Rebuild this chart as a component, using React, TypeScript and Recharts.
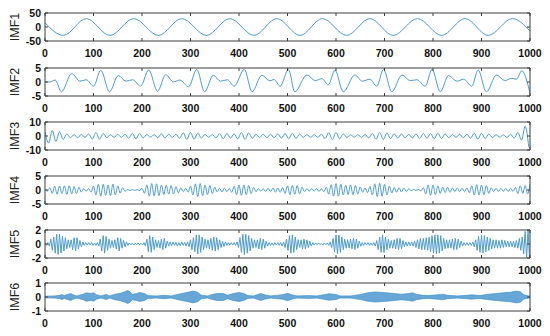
import React from 'react';
import { ComposedChart, Line, Area, XAxis, YAxis } from 'recharts';

const X_TICKS = [0, 100, 200, 300, 400, 500, 600, 700, 800, 900, 1000];
const LABELS = ['IMF1', 'IMF2', 'IMF3', 'IMF4', 'IMF5', 'IMF6'];

// IMF1: extrema
const IMF1_X = [0, 38, 85, 134, 183, 234, 282, 333, 381, 431, 478, 526, 572, 622, 670, 718, 768, 818, 866, 914, 964, 1000];
const IMF1_Y = [15, -30, 30, -30, 30, -30, 30, -30, 30, -30, 30, -30, 30, -30, 30, -30, 30, -30, 30, -30, 30, -15];

// IMF2: extrema
const IMF2_X = [0, 10, 21, 34, 55, 72, 85, 100, 115, 133, 151, 167, 181, 197, 214, 232, 249, 265, 278, 296, 313, 329, 347, 362, 376, 390, 411, 427, 447, 464, 472, 485, 502, 515, 540, 557, 571, 584, 598, 615, 639, 654, 670, 684, 698, 715, 736, 753, 767, 784, 798, 815, 832, 849, 863, 880, 893, 910, 931, 948, 962, 972, 983, 1000];
const IMF2_Y = [0, 0, 0.7, -3.5, 3, 0.3, 0.8, -1.5, 4.2, -3.5, 2.3, 0.3, 0.8, -1.5, 4.3, -3.3, 2.6, 0, 0.7, -1.7, 4.5, -3.5, 2.4, 0.3, 0.8, -1.5, 4.5, -3.5, 2.4, 0.4, 0.9, -1.5, 4.5, -3.5, 2.5, 0.5, 1.2, -1, 4.2, -3.5, 2.5, 0.3, 1, -1.5, 4.5, -3.5, 2.5, 0.5, 0.8, -1.5, 4.5, -3.5, 2.3, 0.3, 1, -1.5, 4.3, -3.5, 2.5, 0.5, 1.3, 1, 4, -4];

// IMF3: extrema every 7.5 samples
const IMF3_STEP = 7.5;
const IMF3_Y = [
  3, -5, 4, -4, 3, -2.5, 1.5, -1.2, 1, -1.3,
  1.2, -1, 1.5, -2.2, 2.5, -2.3, 1.8, -1.2, 0.9, -1,
  1.2, -0.9, 1.2, -1.6, 2, -2, 1.8, -1.4, 1, -0.8,
  1, -1.2, 1.5, -1.5, 1.3, -1, 1.3, -1.8, 2.3, -2.5,
  2.5, -2.2, 2, -1.5, 1.1, -0.9, 1, -1.3, 1.8, -2,
  1.8, -1.5, 1.5, -2, 2.5, -2.5, 2.2, -1.6, 1.2, -1,
  1.2, -1.3, 1.2, -1.2, 1.5, -1.5, 1.8, -2, 2, -1.8,
  1.4, -1, 0.9, -0.8, 1, -1, 1.3, -1.8, 2.3, -2.5,
  2.5, -2, 1.5, -1, 0.8, -0.8, 1, -1, 1, -1.3,
  1.8, -2.3, 2.5, -2.5, 2.2, -1.8, 1.5, -1.5, 1.5, -1.3,
  1.2, -1.3, 1.5, -1.8, 1.8, -1.6, 1.8, -2, 2, -1.8,
  1.5, -1.2, 1, -1, 1.2, -1.2, 1.3, -1.6, 2, -2.2,
  2, -1.8, 1.4, -1, 0.8, -0.8, 0.8, -1, 1.2, -1.5,
  2.5, -3, 7, -8,
];

// IMF4: extrema every 5 samples
const IMF4_STEP = 5;
const IMF4_Y = [
  0.3, -0.4, 0.8, -1.2, 1.4, -1.5, 1.4, -1.3, 1.5, -1.6,
  1.5, -1.4, 1.2, -1.3, 1.0, -0.7, 0.5, -0.4, 0.5, -0.8,
  1.4, -1.8, 2.0, -2.2, 2.1, -1.9, 1.8, -2.0, 2.1, -1.8,
  1.5, -1.1, 0.8, -0.5, 0.2, -0.15, 0.1, -0.15, 0.1, -0.2,
  0.6, -1.2, 1.8, -2.2, 2.3, -2.1, 2.2, -2.0, 1.8, -1.6,
  1.7, -1.5, 1.6, -1.4, 1.2, -1.0, 0.7, -0.6, 0.6, -0.8,
  1.4, -1.8, 2.2, -2.4, 2.3, -2.0, 1.8, -1.7, 1.6, -1.3,
  1.0, -0.7, 0.6, -0.7, 0.7, -0.6, 0.5, -0.8, 1.3, -1.7,
  1.8, -1.9, 1.8, -1.7, 1.6, -1.3, 0.9, -0.6, 0.5, -0.4,
  0.4, -0.5, 0.7, -0.6, 0.7, -0.8, 0.7, -0.8, 0.9, -1.2,
  1.5, -1.7, 1.6, -1.5, 1.6, -1.4, 1.0, -0.6, 0.5, -0.4,
  0.5, -0.4, 0.5, -0.5, 0.4, -0.6, 1.0, -1.5, 1.9, -2.2,
  2.3, -2.2, 2.0, -1.8, 1.7, -1.6, 1.8, -1.7, 1.6, -1.4,
  1.1, -0.8, 0.7, -0.9, 1.2, -1.8, 2.2, -2.3, 2.4, -2.2,
  2.0, -1.8, 1.4, -1.1, 0.9, -0.8, 0.8, -0.7, 0.7, -0.6,
  0.5, -0.3, 0.2, -0.15, 0.2, -0.3, 0.8, -1.4, 1.8, -1.9,
  1.8, -1.7, 1.5, -1.2, 1.0, -0.9, 1.0, -0.8, 0.7, -0.6,
  0.7, -0.6, 0.7, -0.6, 0.7, -1.0, 1.5, -1.8, 1.9, -1.8,
  1.8, -1.7, 1.6, -1.2, 0.8, -0.6, 0.6, -0.5, 0.6, -0.5,
  0.6, -0.5, 0.6, -0.5, 0.9, -1.3, 1.5, -1.2, 1.6, -1.4,
  2.0,
];

// IMF5: extrema every 3 samples
const IMF5_STEP = 3;
const IMF5_Y = [
  0.2, -0.2, 0.2, -0.3, 0.7, -0.9, 1.0, -1.3, 1.4, -1.5,
  1.4, -1.3, 1.1, -1.0, 0.9, -0.7, 0.6, -0.5, 0.6, -0.8,
  0.9, -1.0, 0.9, -0.7, 0.5, -0.4, 0.3, -0.2, 0.2, -0.15,
  0.2, -0.15, 0.2, -0.2, 0.15, -0.2, 0.2, -0.3, 0.7, -1.0,
  1.2, -1.3, 1.1, -0.9, 0.7, -0.6, 0.5, -0.5, 0.6, -0.7,
  0.9, -1.0, 0.8, -0.6, 0.5, -0.4, 0.3, -0.2, 0.15, -0.1,
  0.1, -0.15, 0.1, -0.1, 0.15, -0.1, 0.1, -0.15, 0.2, -0.3,
  0.7, -1.1, 1.2, -1.2, 1.0, -0.8, 0.6, -0.5, 0.5, -0.6,
  0.7, -0.8, 0.8, -0.6, 0.4, -0.3, 0.3, -0.25, 0.3, -0.2,
  0.25, -0.3, 0.2, -0.25, 0.3, -0.2, 0.25, -0.3, 0.3, -0.4,
  0.6, -0.8, 0.9, -1.1, 1.3, -1.4, 1.3, -1.2, 1.0, -0.8,
  0.7, -0.6, 0.6, -0.7, 0.8, -0.9, 1.0, -1.0, 0.9, -0.8,
  0.6, -0.5, 0.4, -0.35, 0.3, -0.2, 0.2, -0.15, 0.2, -0.15,
  0.2, -0.2, 0.3, -0.5, 0.9, -1.2, 1.4, -1.5, 1.4, -1.3,
  1.2, -1.0, 0.8, -0.6, 0.6, -0.5, 0.6, -0.7, 0.8, -0.8,
  0.7, -0.6, 0.4, -0.3, 0.2, -0.2, 0.15, -0.2, 0.2, -0.15,
  0.2, -0.2, 0.2, -0.3, 0.3, -0.5, 0.7, -0.9, 1.2, -1.3,
  1.3, -1.2, 1.0, -0.8, 0.6, -0.5, 0.6, -0.7, 0.7, -0.7,
  0.6, -0.5, 0.4, -0.3, 0.2, -0.15, 0.15, -0.1, 0.15, -0.1,
  0.1, -0.15, 0.15, -0.1, 0.15, -0.2, 0.3, -0.5, 0.8, -1.1,
  1.3, -1.4, 1.3, -1.2, 1.0, -0.8, 0.7, -0.6, 0.6, -0.6,
  0.7, -0.7, 0.8, -0.8, 0.7, -0.6, 0.4, -0.3, 0.2, -0.2,
  0.2, -0.15, 0.2, -0.2, 0.15, -0.2, 0.2, -0.3, 0.5, -0.8,
  1.0, -1.2, 1.3, -1.2, 1.0, -0.8, 0.7, -0.6, 0.5, -0.6,
  0.6, -0.7, 0.8, -0.8, 0.8, -0.7, 0.5, -0.4, 0.3, -0.3,
  0.3, -0.25, 0.3, -0.3, 0.4, -0.5, 0.6, -0.7, 0.8, -0.8,
  0.8, -0.8, 0.9, -0.9, 1.0, -1.1, 1.2, -1.3, 1.3, -1.4,
  1.3, -1.3, 1.2, -1.0, 0.8, -0.7, 0.6, -0.6, 0.6, -0.6,
  0.7, -0.8, 0.8, -0.8, 0.7, -0.5, 0.4, -0.3, 0.2, -0.2,
  0.2, -0.2, 0.2, -0.2, 0.3, -0.4, 0.6, -0.9, 1.1, -1.2,
  1.2, -1.3, 1.2, -1.1, 1.0, -0.9, 0.8, -0.7, 0.6, -0.6,
  0.6, -0.6, 0.5, -0.6, 0.6, -0.5, 0.5, -0.4, 0.4, -0.4,
  0.4, -0.4, 0.4, -0.5, 0.5, -0.6, 0.8, -0.9, 1.0, -1.4,
  1.8, -1.9, 2.0, -2.0,
];

// IMF6: envelope (half-width of the dense band)
const IMF6_X = [0, 20, 30, 35, 40, 48, 53, 58, 65, 79, 85, 95, 100, 106, 115, 127, 133, 144, 155, 165, 170, 175, 180, 189, 195, 205, 212, 230, 245, 260, 282, 295, 305, 315, 322, 335, 347, 355, 368, 376, 388, 400, 410, 418, 430, 445, 452, 465, 490, 500, 508, 520, 545, 560, 575, 585, 600, 608, 630, 653, 665, 680, 690, 705, 720, 735, 750, 758, 765, 780, 790, 810, 820, 830, 850, 870, 880, 895, 915, 930, 945, 960, 972, 980, 987, 1000];
const IMF6_A = [0.06, 0.08, 0.12, 0.18, 0.1, 0.2, 0.25, 0.16, 0.08, 0.2, 0.3, 0.25, 0.3, 0.16, 0.08, 0.18, 0.08, 0.2, 0.26, 0.38, 0.46, 0.38, 0.2, 0.25, 0.32, 0.25, 0.1, 0.08, 0.12, 0.08, 0.25, 0.34, 0.42, 0.34, 0.12, 0.08, 0.2, 0.25, 0.25, 0.12, 0.25, 0.32, 0.25, 0.1, 0.08, 0.25, 0.16, 0.08, 0.16, 0.27, 0.16, 0.08, 0.1, 0.08, 0.16, 0.23, 0.18, 0.08, 0.08, 0.2, 0.3, 0.36, 0.34, 0.3, 0.25, 0.2, 0.25, 0.3, 0.2, 0.12, 0.1, 0.16, 0.2, 0.12, 0.08, 0.12, 0.16, 0.1, 0.2, 0.25, 0.3, 0.34, 0.42, 0.38, 0.16, 0.06];

const LINE = '#4f9dca';
const BAND = '#3389c9';
const FRAME = '#3c3c3c';
const FONT = '"Liberation Sans", Arial, Helvetica, sans-serif';

const d1 = IMF1_X.map((x, i) => ({ x, y: IMF1_Y[i] }));
const d2 = IMF2_X.map((x, i) => ({ x, y: IMF2_Y[i] }));
const d3 = IMF3_Y.map((y, i) => ({ x: i * IMF3_STEP, y }));
const d4 = IMF4_Y.map((y, i) => ({ x: i * IMF4_STEP, y }));
const d5 = IMF5_Y.map((y, i) => ({ x: i * IMF5_STEP, y }));
const d6 = IMF6_X.map((x, i) => ({ x, r: [-IMF6_A[i], IMF6_A[i]] }));

const BottomTick = (p: any) => (
  <g>
    <line x1={p.x} x2={p.x} y1={p.y} y2={p.y - 3} stroke={FRAME} strokeWidth={1} />
    <text x={p.x} y={p.y + 16} textAnchor="middle" fontSize={10.5} fontWeight="bold" fontFamily={FONT} fill="#111">
      {p.payload.value}
    </text>
  </g>
);
const TopTick = (p: any) => (
  <line x1={p.x} x2={p.x} y1={p.y} y2={p.y + 3} stroke={FRAME} strokeWidth={1} />
);
const LeftTick = (p: any) => (
  <g>
    <line x1={p.x} x2={p.x + 3} y1={p.y} y2={p.y} stroke={FRAME} strokeWidth={1} />
    <text x={p.x - 4} y={p.y} dy="0.36em" textAnchor="end" fontSize={10.5} fontWeight="bold" fontFamily={FONT} fill="#111">
      {p.payload.value}
    </text>
  </g>
);
const RightTick = (p: any) => (
  <line x1={p.x} x2={p.x - 3} y1={p.y} y2={p.y} stroke={FRAME} strokeWidth={1} />
);

type PanelProps = {
  data: any[];
  label: string;
  domain: [number, number];
  top: number;
  kind: 'line' | 'area';
  curve: 'monotone' | 'linear';
};

const PAD = 8;

const Panel = ({ data, label, domain, top, kind, curve }: PanelProps) => {
  const yTicks = [domain[0], 0, domain[1]];
  return (
    <div style={{ position: 'absolute', left: 0, top: top - PAD - 1 }}>
      <ComposedChart width={550} height={58} data={data} margin={{ top: PAD, right: 19, bottom: 5, left: 44 }}>
        <XAxis xAxisId="b" dataKey="x" type="number" domain={[0, 1000]} ticks={X_TICKS} interval={0}
          tickSize={0} tickMargin={0} tickLine={false} tick={BottomTick} axisLine={{ stroke: FRAME }} height={16} allowDataOverflow />
        <XAxis xAxisId="t" orientation="top" dataKey="x" type="number" domain={[0, 1000]} ticks={X_TICKS} interval={0}
          tickSize={0} tickMargin={0} tickLine={false} tick={TopTick} axisLine={{ stroke: FRAME }} height={1} allowDataOverflow />
        <YAxis yAxisId="l" type="number" domain={domain} ticks={yTicks} interval={0} width={1}
          tickSize={0} tickMargin={0} tickLine={false} tick={LeftTick} axisLine={{ stroke: FRAME }} allowDataOverflow
          label={{
            content: (lp: any) => {
              const vb = lp.viewBox || {};
              const cx = (vb.x ?? 44) + (vb.width ?? 1) - 30;
              const cy = (vb.y ?? 0) + (vb.height ?? 0) / 2;
              return (
                <text x={cx} y={cy} transform={`rotate(-90 ${cx} ${cy})`} textAnchor="middle" dy="0.35em"
                  fontSize={12.5} fontFamily={FONT} fill="#222">{label}</text>
              );
            },
          }} />
        <YAxis yAxisId="r" orientation="right" type="number" domain={domain} ticks={yTicks} interval={0} width={1}
          tickSize={0} tickMargin={0} tickLine={false} tick={RightTick} axisLine={{ stroke: FRAME }} allowDataOverflow />
        {kind === 'line' ? (
          <Line xAxisId="b" yAxisId="l" dataKey="y" type={curve} dot={false} stroke={LINE} strokeWidth={1}
            isAnimationActive={false} />
        ) : (
          <Area xAxisId="b" yAxisId="l" dataKey="r" type="linear" stroke={BAND} strokeWidth={0.6} fill={BAND}
            fillOpacity={0.75} dot={false} activeDot={false} isAnimationActive={false} />
        )}
      </ComposedChart>
    </div>
  );
};

export default function App() {
  return (
    <div style={{ position: 'absolute', left: 0, top: 0, width: 550, height: 336, background: '#fff', fontFamily: FONT }}>
      <Panel data={d1} label={LABELS[0]} domain={[-50, 50]} top={13} kind="line" curve="monotone" />
      <Panel data={d2} label={LABELS[1]} domain={[-5, 5]} top={68} kind="line" curve="monotone" />
      <Panel data={d3} label={LABELS[2]} domain={[-10, 10]} top={122} kind="line" curve="monotone" />
      <Panel data={d4} label={LABELS[3]} domain={[-5, 5]} top={176} kind="line" curve="monotone" />
      <Panel data={d5} label={LABELS[4]} domain={[-2, 2]} top={230} kind="line" curve="linear" />
      <Panel data={d6} label={LABELS[5]} domain={[-1, 1]} top={283} kind="area" curve="linear" />
    </div>
  );
}
